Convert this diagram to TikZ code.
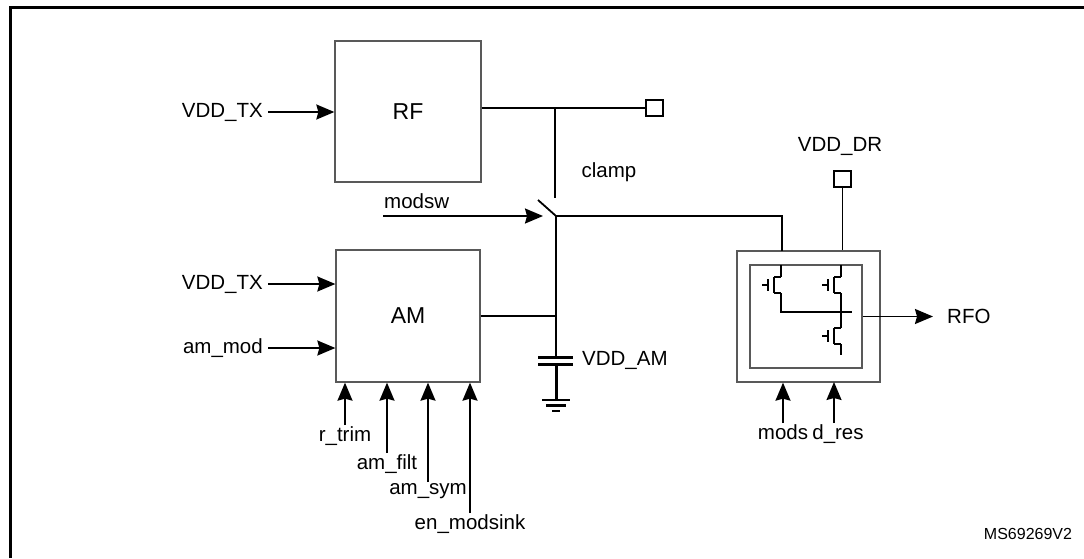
\documentclass[tikz,border=0pt]{standalone}
\usepackage{fontspec}
\setmainfont{Liberation Sans}
\usetikzlibrary{arrows.meta, positioning}
\tikzset{
	blk/.style = {draw = black!65, line width = 1.3pt, inner sep = 0pt, font = \fontsize{23}{27}\selectfont},
	wire/.style = {line width = 1.8pt},
	arr/.style = {wire, -{Stealth[length=18pt,width=15pt,inset=2pt]}},
	pad/.style = {draw, line width = 1.6pt, minimum width = 17pt, minimum height = 16pt, inner sep = 0pt},
	lbl/.style = {font = \fontsize{20.5}{24}\selectfont, inner sep = 1pt},
	pics/fet/.style = {
		code = {
			\draw[line width = 1.5pt] (0,-8) -- (0,8) (0,-8) -- (7,-8) (0,8) -- (7,8);
			\draw[line width = 1.5pt] (-6,-6) -- (-6,6) (-12,0) -- (-6,0);
		}
	},
}
\begin{document}
\begin{tikzpicture}[x = 1pt, y = -1pt]
			\useasboundingbox (0,0) rectangle (1084,558);
			\draw[line width = 3pt] (10,558) -- (10,7) -- (1084,7);

			\begin{scope}
				\node[blk, minimum width = 146pt, minimum height = 141pt] (rf) at (408,111.5) {RF};
				\node[blk, minimum width = 144pt, minimum height = 132pt] (am) at (408,316) {AM};

				\node[lbl, anchor = east] (vddtx1) at (264,112) {VDD\_TX};
				\node[lbl, anchor = east] (vddtx2) at (264,284) {VDD\_TX};
				\node[lbl, anchor = east] (ammod) at (264,348) {am\_mod};
				\draw[arr] ([xshift = 4pt]vddtx1.east) -- (vddtx1.east -| rf.west);
				\draw[arr] ([xshift = 4pt]vddtx2.east) -- (vddtx2.east -| am.west);
				\draw[arr] ([xshift = 4pt]ammod.east) -- (ammod.east -| am.west);

				\foreach \x/\y/\t/\n in {345/425/r\_trim/rtrim, 387/453/am\_filt/amfilt, 428/482/am\_sym/amsym, 470/513/en\_modsink/enmodsink}
				{
					\node[lbl, anchor = north] (\n) at (\x,\y) {\t};
					\draw[arr] (\n.north) -- (\n.north |- am.south);
				}
			\end{scope}

			\begin{scope}
				\node[pad] (padrf) at (654.5,108) {};
				\coordinate (clamp top) at (555,108);
				\coordinate (clamp end) at (555,198);
				\coordinate (blade) at (538,200);
				\coordinate (sw) at (556,216);
				\coordinate (sw tip) at (543,216);
				\coordinate (modsw in) at (383,216);
				\draw[wire] (rf.east |- padrf) -- (padrf.west);
				\draw[wire] (clamp top) -- (clamp end);
				\draw[wire] (blade) -- (sw);
				\node[lbl, anchor = south west] (modsw) at (383,210) {modsw};
				\draw[arr] (modsw in) -- (sw tip);
				\node[lbl] (clamp) at (609,172) {clamp};

				\coordinate (cap top) at (556,357);
				\draw[wire] (sw) -- (cap top);
				\draw[wire] (am.east) -- (am.east -| sw);
				\draw[line width = 3pt] (538,357) -- (573,357) (538,364) -- (573,364);
				\draw[line width = 3pt] (556,364) -- (556,400);
				\draw[line width = 2.5pt] (542,400) -- (570,400) (546,405.5) -- (566,405.5) (552,411) -- (560,411);
				\node[lbl, anchor = west] (vddam) at (581,360) {VDD\_AM};
			\end{scope}

			\begin{scope}
				\node[blk, minimum width = 143pt, minimum height = 131pt] (drv) at (808.5,316.5) {};
				\node[blk, minimum width = 112pt, minimum height = 103pt] (core) at (806,316.5) {};

				\coordinate (drv in) at (782,251);
				\draw[wire] (sw) -| (drv in);
				\node[pad] (paddr) at (842.5,179) {};
				\node[lbl] (vdddr) at (840,146) {VDD\_DR};
				\draw[wire] (paddr.south) -- (paddr.south |- drv.north);

				\pic at (774,285) {fet};
				\pic at (834,285) {fet};
				\pic at (834,336) {fet};
				\draw[line width = 1.5pt] (781,265) -- (781,277) (781,293) -- (781,312) -- (852,312);
				\draw[line width = 1.5pt] (841,265) -- (841,277) (841,293) -- (841,328) (841,344) -- (841,355);

				\coordinate (rfo tip) at (933,316.5);
				\draw[arr] (core.east) -- (rfo tip);
				\node[lbl, anchor = west] (rfo) at (946,316.5) {RFO};

				\node[lbl, anchor = north] (mods) at (783,423) {mods};
				\node[lbl, anchor = north] (dres) at (838,423) {d\_res};
				\draw[arr] (mods.north) -- (mods.north |- drv.south);
				\draw[arr] (834,423) -- (834,382);
			\end{scope}

			\node[font = \fontsize{16}{19}\selectfont, inner sep = 0pt] (code) at (1028,534) {MS69269V2};
		\end{tikzpicture}
\end{document}
